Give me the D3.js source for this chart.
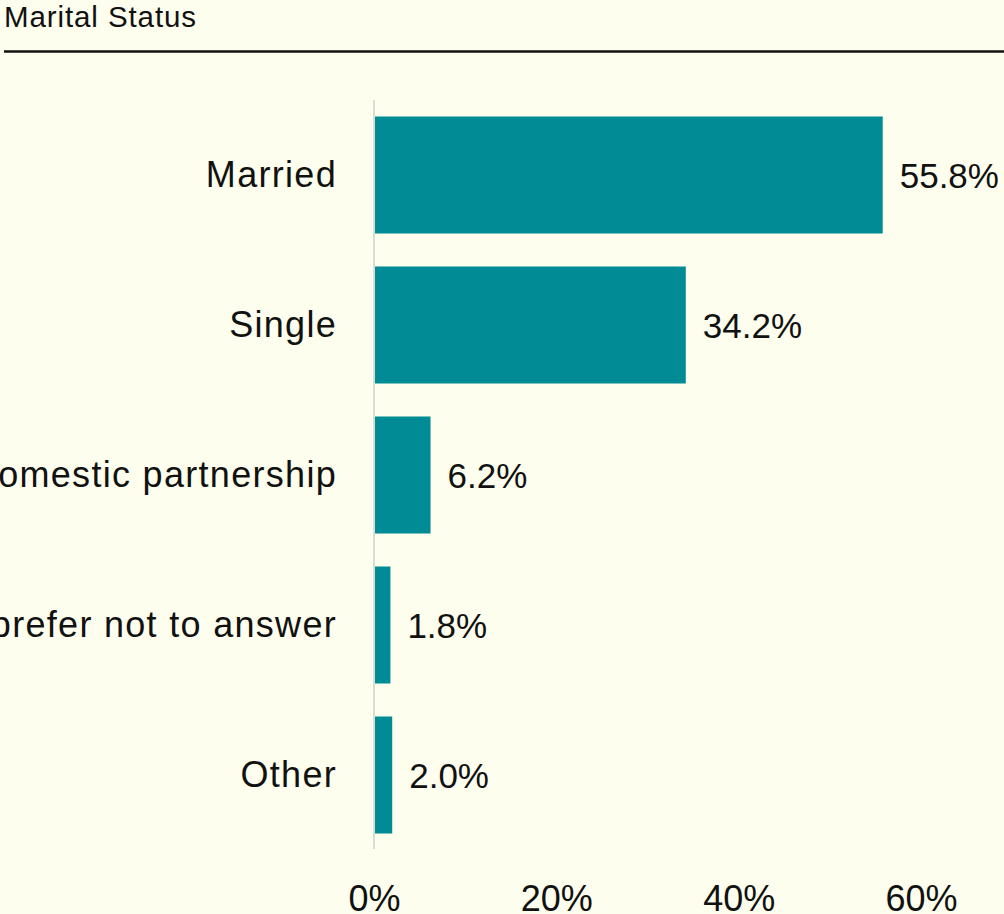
<!DOCTYPE html>
<html>
<head>
<meta charset="utf-8">
<script src="https://cdn.jsdelivr.net/npm/d3@7"></script>
<style>
  html, body { margin: 0; padding: 0; background: #fdfeed; overflow: hidden; }
  svg { display: block; }
  text { font-family: "Liberation Sans", Arial, sans-serif; fill: #111; }
</style>
</head>
<body>
<svg id="chart" width="1004" height="914"></svg>
<script>
const title = "Marital Status";
const categories = ["Married", "Single", "Domestic partnership", "I prefer not to answer", "Other"];
const values = [55.8, 34.2, 6.2, 1.8, 2.0];
const valueLabels = ["55.8%", "34.2%", "6.2%", "1.8%", "2.0%"];
const tickValues = [0, 20, 40, 60];
const tickLabels = ["0%", "20%", "40%", "60%"];

const svg = d3.select("#chart");
const W = 1004, H = 914;

svg.append("rect").attr("width", W).attr("height", H).attr("fill", "#fdfeed");

// Title and rule
svg.append("text")
  .attr("x", 4).attr("y", 27)
  .attr("font-size", 29.5)
  .attr("letter-spacing", 0.9)
  .text(title);
svg.append("line")
  .attr("x1", 4).attr("x2", W)
  .attr("y1", 51.5).attr("y2", 51.5)
  .attr("stroke", "#111").attr("stroke-width", 2.5);

const x = d3.scaleLinear().domain([0, 60]).range([374, 921]);
const y = d3.scaleBand().domain(categories).range([100, 850])
  .paddingInner(0.22).paddingOuter(0.11);

// vertical axis line
svg.append("line")
  .attr("x1", x(0)).attr("x2", x(0))
  .attr("y1", 100).attr("y2", 849)
  .attr("stroke", "#dcdcd6").attr("stroke-width", 2);

const data = categories.map((c, i) => ({ c, v: values[i], l: valueLabels[i] }));

svg.selectAll("rect.bar").data(data).enter().append("rect")
  .attr("class", "bar")
  .attr("x", x(0) + 1)
  .attr("y", d => y(d.c))
  .attr("width", d => x(d.v) - x(0) - 1)
  .attr("height", y.bandwidth())
  .attr("fill", "#008b95");

svg.selectAll("text.cat").data(data).enter().append("text")
  .attr("class", "cat")
  .attr("x", 337)
  .attr("y", d => y(d.c) + y.bandwidth() / 2 + 12)
  .attr("text-anchor", "end")
  .attr("font-size", 36)
  .attr("letter-spacing", 1.3)
  .text(d => d.c);

svg.selectAll("text.val").data(data).enter().append("text")
  .attr("class", "val")
  .attr("x", d => x(d.v) + 17)
  .attr("y", d => y(d.c) + y.bandwidth() / 2 + 13)
  .attr("font-size", 35)
  .text(d => d.l);

// x axis tick labels
const xAxis = d3.axisBottom(x).tickValues(tickValues)
  .tickFormat((d, i) => tickLabels[i]).tickSize(0).tickPadding(0);
const gx = svg.append("g").attr("transform", "translate(0,880)").call(xAxis);
gx.select(".domain").remove();
gx.selectAll("text")
  .attr("font-size", 36)
  .attr("font-family", "Liberation Sans, Arial, sans-serif")
  .attr("fill", "#111")
  .attr("dy", 0)
  .attr("y", 31);
</script>
</body>
</html>
